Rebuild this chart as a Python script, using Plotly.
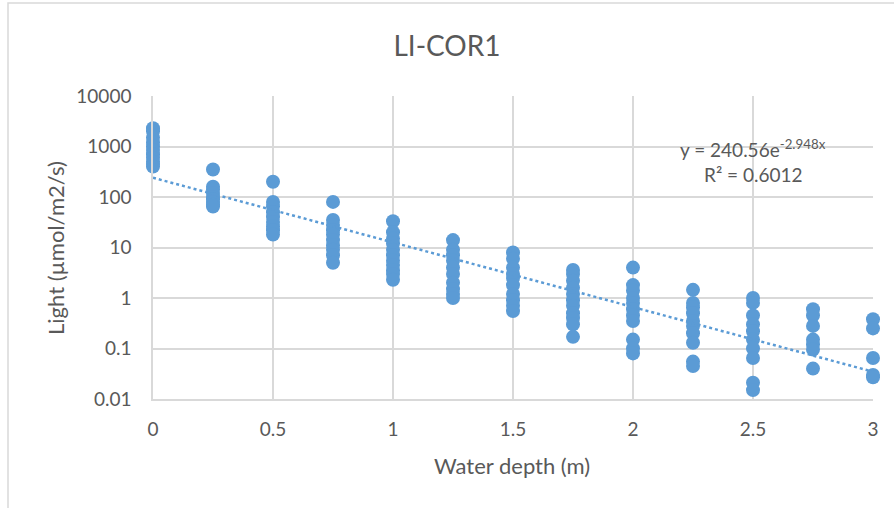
import math
import plotly.graph_objects as go

# Water depth (m) per column and measured light values (µmol/m2/s)
depth_levels = [0, 0.25, 0.5, 0.75, 1, 1.25, 1.5, 1.75, 2, 2.25, 2.5, 2.75, 3]
light_values = [
    [2300, 2000, 1500, 1200, 1000, 850, 700, 600, 500, 450, 400],
    [350, 160, 140, 120, 100, 90, 80, 70, 65],
    [200, 80, 65, 50, 40, 32, 26, 22, 18],
    [80, 35, 28, 22, 18, 14, 11, 9, 7, 5],
    [33, 20, 15, 12, 9, 7, 5.5, 4.5, 3.5, 3, 2.3],
    [14, 9, 7, 5.5, 4, 3, 2, 1.5, 1.2, 1],
    [8, 6, 4, 3, 2.5, 1.8, 1.2, 0.9, 0.7, 0.55],
    [3.6, 3, 2.2, 1.6, 1.2, 0.9, 0.7, 0.5, 0.4, 0.3, 0.17],
    [4, 1.8, 1.4, 1, 0.8, 0.6, 0.45, 0.35, 0.15, 0.1, 0.08],
    [1.45, 0.8, 0.65, 0.5, 0.35, 0.28, 0.2, 0.13, 0.055, 0.045],
    [1.0, 0.8, 0.45, 0.3, 0.22, 0.15, 0.1, 0.065, 0.021, 0.015],
    [0.6, 0.45, 0.28, 0.15, 0.12, 0.095, 0.04],
    [0.38, 0.25, 0.065, 0.03, 0.027],
]

# Exponential trendline parameters (y = a * e^(b x))
trend_a = 240.56
trend_b = -2.948
trend_r2 = 0.6012
trend_x = [i * 0.05 for i in range(61)]

y_tickvals = [0.01, 0.1, 1, 10, 100, 1000, 10000]
y_ticktext = ["0.01", "0.1", "1", "10", "100", "1000", "10000"]
x_tickvals = [0, 0.5, 1, 1.5, 2, 2.5, 3]
x_ticktext = ["0", "0.5", "1", "1.5", "2", "2.5", "3"]

xs, ys = [], []
for d, vals in zip(depth_levels, light_values):
    for v in vals:
        xs.append(d)
        ys.append(v)

trend_y = [trend_a * math.exp(trend_b * x) for x in trend_x]

blue = "#5B9BD5"
font_family = "Lato, 'Open Sans', sans-serif"
gray_text = "#595959"
grid = "#D9D9D9"

# plot area in pixels: left 153, right 873, top 96, bottom 399
L, R, T, B = 153, 873, 96, 399
W, H = R - L, B - T


def px(x):
    return (x - L) / W


def py(y):
    return (B - y) / H


fig = go.Figure()
fig.add_trace(go.Scatter(
    x=xs, y=ys, mode="markers",
    marker=dict(color=blue, size=14, line=dict(width=0)),
    cliponaxis=False, showlegend=False,
))
fig.add_trace(go.Scatter(
    x=trend_x, y=trend_y, mode="lines",
    line=dict(color=blue, width=2.5, dash="dot"),
    cliponaxis=False, showlegend=False,
))

fig.update_layout(
    width=894, height=508,
    margin=dict(l=L, r=894 - R, t=T, b=508 - B),
    paper_bgcolor="white", plot_bgcolor="white",
    font=dict(family=font_family, color=gray_text, size=19),
    title=dict(text="LI-COR1", x=0.5, xanchor="center", y=1 - 46 / 508, yanchor="middle",
               font=dict(size=28, color=gray_text, family=font_family)),
    xaxis=dict(
        range=[0, 3], tickvals=x_tickvals, ticktext=x_ticktext,
        showgrid=True, gridcolor=grid, gridwidth=1.5,
        showline=True, linecolor=grid, linewidth=1.5,
        zeroline=False, ticks="", ticklen=0, ticklabelstandoff=12,
        tickfont=dict(size=19, color=gray_text),
    ),
    yaxis=dict(
        type="log", range=[-2, 4], tickvals=y_tickvals, ticktext=y_ticktext,
        showgrid=True, gridcolor=grid, gridwidth=1.5,
        showline=True, linecolor=grid, linewidth=1.5,
        zeroline=False, ticks="", ticklen=0, ticklabelstandoff=16,
        tickfont=dict(size=19, color=gray_text),
    ),
    shapes=[dict(type="rect", xref="paper", yref="paper",
                 x0=px(8), x1=px(910), y0=py(530), y1=py(3),
                 line=dict(color=grid, width=1.5), fillcolor="rgba(0,0,0,0)", layer="below")],
    annotations=[
        dict(xref="paper", yref="paper", x=px(753), y=py(148),
             text="y = 240.56e<sup>-2.948x</sup>", showarrow=False,
             font=dict(size=19, color=gray_text), xanchor="center", yanchor="middle"),
        dict(xref="paper", yref="paper", x=px(753), y=py(174),
             text=f"R² = {trend_r2}", showarrow=False,
             font=dict(size=19, color=gray_text), xanchor="center", yanchor="middle"),
        dict(xref="paper", yref="paper", x=px(512), y=py(465),
             text="Water depth (m)", showarrow=False,
             font=dict(size=22, color=gray_text), xanchor="center", yanchor="middle"),
        dict(xref="paper", yref="paper", x=px(55), y=py(248),
             text="Light (µmol/m2/s)", showarrow=False, textangle=-90,
             font=dict(size=22, color=gray_text), xanchor="center", yanchor="middle"),
    ],
)

fig.write_html("out.html")
